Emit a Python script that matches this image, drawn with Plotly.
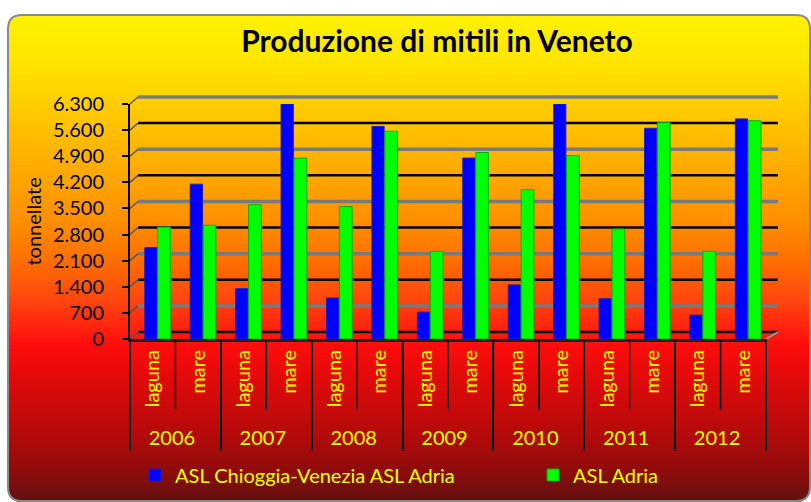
import plotly.graph_objects as go
import numpy as np

# ---------------- data ----------------
years = ["2006", "2007", "2008", "2009", "2010", "2011", "2012"]
zones = ["laguna", "mare"]
chioggia = [2450, 4150, 1350, 6300, 1100, 5700, 720, 4850, 1450, 6300, 1080, 5650, 640, 5900]
adria = [3000, 3050, 3600, 4850, 3550, 5570, 2350, 5000, 4000, 4920, 2950, 5800, 2350, 5850]
y_ticks = [0, 700, 1400, 2100, 2800, 3500, 4200, 4900, 5600, 6300]
series_names = ["ASL Chioggia-Venezia ASL Adria", "ASL Adria"]
title_text = "Produzione di mitili in Veneto"
y_title = "tonnellate"

x_years = [y for y in years for z in zones]
x_zones = [z for y in years for z in zones]

# ---------------- geometry helpers ----------------
W, H = 811, 502
L, R, T, B = 130, 45, 104, 163
pw, ph = W - L - R, H - T - B
ymax = y_ticks[-1]


def fx(px):
    return (px - L) / pw


def fy(py):
    return (H - B - py) / ph


# gradient stops (pixel y -> colour)
grad = [
    (15, (255, 242, 0)),
    (60, (255, 230, 0)),
    (100, (255, 208, 0)),
    (160, (255, 176, 0)),
    (220, (255, 144, 0)),
    (260, (255, 112, 0)),
    (300, (255, 70, 16)),
    (345, (255, 13, 13)),
    (380, (224, 10, 10)),
    (430, (184, 10, 10)),
    (470, (144, 12, 12)),
    (502, (96, 16, 16)),
]
gy = np.array([g[0] for g in grad], dtype=float)
gc = np.array([g[1] for g in grad], dtype=float)

shapes = []
bx0, bx1, by0, by1, rad = 8, 810, 15, 501, 14
step = 2
for top in range(by0, by1, step):
    mid = top + step / 2
    inset = 0.0
    if mid < by0 + rad:
        dy = by0 + rad - mid
        inset = rad - np.sqrt(max(rad * rad - dy * dy, 0))
    elif mid > by1 - rad:
        dy = mid - (by1 - rad)
        inset = rad - np.sqrt(max(rad * rad - dy * dy, 0))
    c = [int(np.interp(mid, gy, gc[:, k])) for k in range(3)]
    shapes.append(dict(
        type="rect", xref="paper", yref="paper", layer="below",
        x0=fx(bx0 + inset), x1=fx(bx1 - inset),
        y0=fy(top), y1=fy(top + step + 0.7),
        line=dict(width=0), fillcolor=f"rgb({c[0]},{c[1]},{c[2]})",
    ))

# rounded border
x0p, x1p, y0p, y1p = fx(bx0), fx(bx1), fy(by0), fy(by1)
rxp, ryp = rad / pw, rad / ph
path = (f"M {x0p+rxp},{y0p} L {x1p-rxp},{y0p} Q {x1p},{y0p} {x1p},{y0p-ryp} "
        f"L {x1p},{y1p+ryp} Q {x1p},{y1p} {x1p-rxp},{y1p} L {x0p+rxp},{y1p} "
        f"Q {x0p},{y1p} {x0p},{y1p+ryp} L {x0p},{y0p-ryp} Q {x0p},{y0p} {x0p+rxp},{y0p} Z")
shapes.append(dict(type="path", xref="paper", yref="paper", layer="below",
                   path=path, line=dict(color="#8a8a8a", width=2)))

# back-wall gridlines (3D offset) alternating black / grey
off_x, off_y = 8, 7
for i, v in enumerate(y_ticks):
    col = "#000000" if i % 2 == 0 else "#7a7a7a"
    wid = 2.5 if i % 2 == 0 else 3.5
    yp = v / ymax + off_y / ph
    shapes.append(dict(type="line", xref="paper", yref="paper", layer="below",
                       x0=fx(L + off_x), x1=fx(778), y0=yp, y1=yp,
                       line=dict(color=col, width=wid)))
    shapes.append(dict(type="line", xref="paper", yref="paper", layer="below",
                       x0=0, x1=fx(L + off_x), y0=v / ymax, y1=yp,
                       line=dict(color="#555555", width=1.5)))
# floor right diagonal
shapes.append(dict(type="line", xref="paper", yref="paper", layer="below",
                   x0=1, x1=fx(778), y0=0, y1=off_y / ph,
                   line=dict(color="#999999", width=2)))

# inner category dividers
ncat = len(x_zones)
for k in range(ncat + 1):
    shapes.append(dict(type="line", xref="paper", yref="paper", layer="above",
                       x0=k / ncat, x1=k / ncat, y0=0, y1=fy(410),
                       line=dict(color="#000000", width=1.5)))

fig = go.Figure()
fig.add_trace(go.Bar(
    x=[x_years, x_zones], y=chioggia, name=series_names[0],
    marker=dict(color="#0000FF", line=dict(color="#2020C0", width=1)),
    offset=-0.175, width=0.27, legend="legend", showlegend=True,
))
fig.add_trace(go.Bar(
    x=[x_years, x_zones], y=adria, name=series_names[1],
    marker=dict(color="#00FF00", line=dict(color="#00B000", width=1)),
    offset=0.11, width=0.28, legend="legend2", showlegend=True,
))

font_family = "Lato"
leg_common = dict(
    orientation="h", y=fy(475), xanchor="left", yanchor="middle",
    font=dict(family=font_family, size=20, color="#FFFF00"),
    bgcolor="rgba(0,0,0,0)", visible=True,
)
fig.update_layout(
    width=W, height=H,
    showlegend=True,
    margin=dict(l=L, r=R, t=T, b=B, autoexpand=False),
    paper_bgcolor="white", plot_bgcolor="rgba(0,0,0,0)",
    separators=",.",
    barmode="overlay",
    font=dict(family=font_family, color="#000000"),
    shapes=shapes,
    title=dict(text=title_text, x=437 / W, y=1 - 41 / H, xref="container", yref="container",
               xanchor="center", yanchor="middle",
               font=dict(family=font_family, size=30, color="#000000", weight="bold")),
    xaxis=dict(
        type="multicategory", range=[-0.5, ncat - 0.5],
        showline=True, linecolor="#222222", linewidth=3,
        ticks="", showgrid=False, tickangle=-90,
        tickfont=dict(family=font_family, size=20, color="#FFFF00"),
        showdividers=True, dividercolor="#000000", dividerwidth=1.5,
        automargin=False,
    ),
    yaxis=dict(
        range=[0, ymax], tickvals=y_ticks, tickformat=",",
        showline=True, linecolor="#000000", linewidth=2,
        ticks="outside", ticklen=6, tickcolor="#000000", tickwidth=1.5,
        showgrid=False, zeroline=False, ticklabelstandoff=14,
        tickfont=dict(family=font_family, size=20, color="#000000"),
        automargin=False,
    ),
    legend=dict(x=fx(135), **leg_common),
    legend2=dict(x=fx(533), **leg_common),
    annotations=[dict(
        text=y_title, textangle=-90, x=fx(32), y=0.5, xref="paper", yref="paper",
        xanchor="center", yanchor="middle", showarrow=False,
        font=dict(family=font_family, size=20, color="#000000"),
    )],
)

fig.write_html("out.html", config={"displayModeBar": False},
               post_script="document.body.style.margin='0';")
